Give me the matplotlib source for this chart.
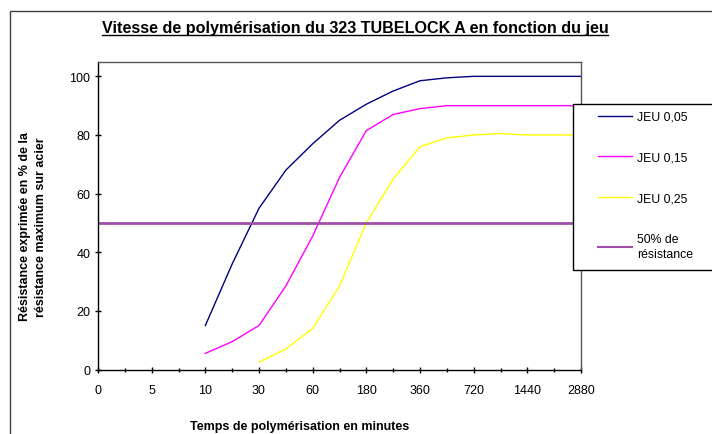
import matplotlib
matplotlib.use("Agg")
import matplotlib.pyplot as plt
from matplotlib.patches import Rectangle
from matplotlib.lines import Line2D
from matplotlib.ticker import MultipleLocator
import numpy as np

# x categories (minutes) and half-step positions used by the curves
time_labels = ['0', '5', '10', '30', '60', '180', '360', '720', '1440', '2880']
pos = [i / 2 for i in range(19)]

nan = np.nan
jeu_005 = [nan, nan, nan, nan, 15, 36, 55, 68, 77, 85, 90.5, 95, 98.5, 99.5, 100, 100, 100, 100, 100]
jeu_015 = [nan, nan, nan, nan, 5.5, 9.5, 15, 28.5, 45.5, 65.5, 81.5, 87, 89, 90, 90, 90, 90, 90, 90]
jeu_025 = [nan, nan, nan, nan, nan, nan, 2.5, 7, 14, 28.5, 50, 65, 76, 79, 80, 80.5, 80, 80, 80]
seuil_50 = [50] * 19

plt.rcParams['font.family'] = ['Liberation Sans', 'DejaVu Sans']

W, H = 712, 435
fig = plt.figure(figsize=(W / 100, H / 100), dpi=100)

# outer chart frame
fig.patches.append(Rectangle((10 / W, -0.1), 1.2, 1 - 12 / H + 0.1, transform=fig.transFigure,
                             fill=False, edgecolor='#404040', lw=1))

ax = fig.add_axes([98 / W, 1 - 370.5 / H, (581 - 98) / W, (370.5 - 62.7) / H])

ax.plot(pos, jeu_005, color='#000080', lw=1, label='JEU 0,05')
ax.plot(pos, jeu_015, color='#ff00ff', lw=1, label='JEU 0,15')
ax.plot(pos, jeu_025, color='#ffff00', lw=1, label='JEU 0,25')
ax.plot(pos, seuil_50, color='#9e4fa5', lw=2, label='50% de\nrésistance')

ax.set_xlim(0, 9)
ax.set_ylim(0, 105)
ax.set_xticks(range(len(time_labels)))
ax.set_xticklabels(time_labels)
ax.xaxis.set_minor_locator(MultipleLocator(0.5))
ax.set_yticks(range(0, 101, 20))
ax.tick_params(axis='both', which='major', direction='inout', length=5, width=1,
               labelsize=9, colors='black')
ax.tick_params(axis='x', which='major', pad=8)
ax.tick_params(axis='y', which='major', pad=3)
ax.tick_params(axis='x', which='minor', direction='inout', length=3, width=1)
for side in ['left', 'bottom']:
    ax.spines[side].set_color('black')
    ax.spines[side].set_linewidth(1)
for side in ['top', 'right']:
    ax.spines[side].set_color('#555555')
    ax.spines[side].set_linewidth(1)

# axis titles
fig.text(300 / W, 1 - 427 / H, 'Temps de polymérisation en minutes', ha='center', va='center',
         fontsize=9, fontweight='bold')
fig.text(33 / W, 1 - 227 / H, 'Résistance exprimée en % de la\nrésistance maximum sur acier',
         ha='center', va='center', rotation=90, fontsize=9, fontweight='bold', linespacing=1.45)

# title, underlined
title = fig.text(355 / W, 1 - 28 / H, 'Vitesse de polymérisation du 323 TUBELOCK A en fonction du jeu',
                 ha='center', va='center', fontsize=11.6, fontweight='bold',
                 family=['Liberation Sans Narrow', 'Liberation Sans'])
fig.canvas.draw()
bb = title.get_window_extent().transformed(fig.transFigure.inverted())
fig.add_artist(Line2D([bb.x0, bb.x1], [bb.y0 - 0.002, bb.y0 - 0.002], transform=fig.transFigure,
                      color='black', lw=1))

# legend box (runs past the right edge like the original)
fig.patches.append(Rectangle((573 / W, 1 - 271 / H), 0.5, (271 - 105) / H, transform=fig.transFigure,
                             facecolor='white', edgecolor='black', lw=1, zorder=5))
leg = fig.legend(loc='upper left', bbox_to_anchor=(598 / W, 1 - 112 / H), frameon=False,
                 borderpad=0, borderaxespad=0, handlelength=2.8, handletextpad=0.4,
                 labelspacing=2.35, fontsize=8.8)
for t in leg.get_texts():
    t.set_linespacing(1.35)
leg.legend_handles[3].set_linewidth(1.5)
leg.set_zorder(6)

fig.savefig('out.png', dpi=100)
